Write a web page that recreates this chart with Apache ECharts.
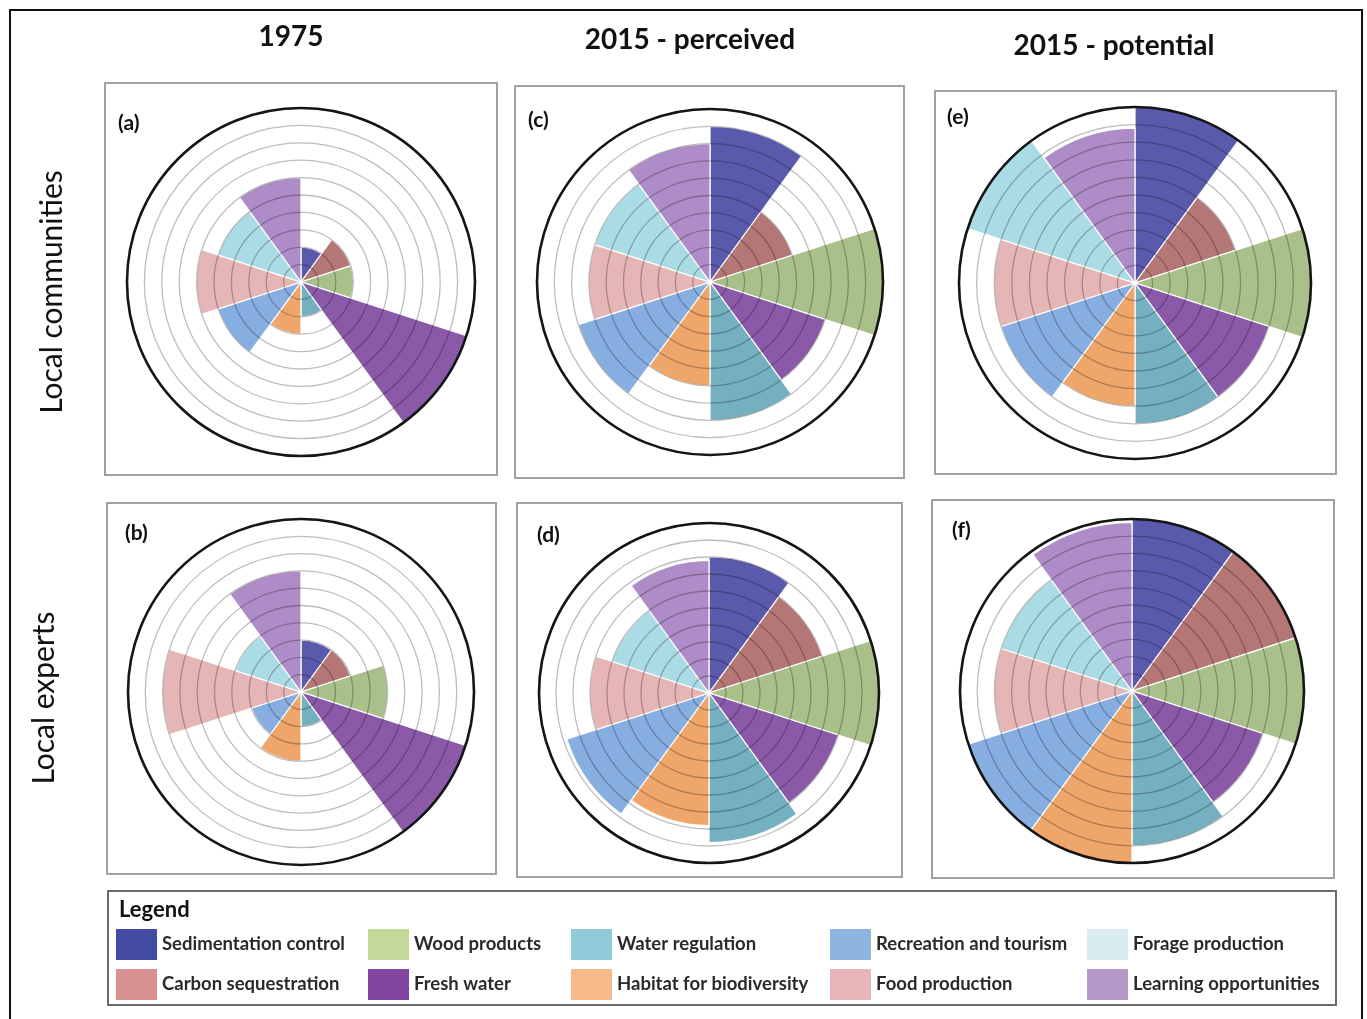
<!DOCTYPE html>
<html>
<head>
<meta charset="utf-8">
<script src="https://cdn.jsdelivr.net/npm/echarts@6/dist/echarts.min.js"></script>
<style>
html,body{margin:0;padding:0;background:#fff;}
#chart{width:1367px;height:1019px;}
</style>
</head>
<body>
<div id="chart"></div>
<script>
// ---- data ----
const categories = ['Sedimentation control','Carbon sequestration','Wood products','Fresh water','Water regulation','Habitat for biodiversity','Recreation and tourism','Food production','Forage production','Learning opportunities'];
const columnTitles = ['1975','2015 - perceived','2015 - potential'];
const rowTitles = ['Local communities','Local experts'];
const panelLabels = ['(a)','(b)','(c)','(d)','(e)','(f)'];
const valuesA = [2, 3, 3, 10, 2, 3, 5, 6, 5, 6];
const valuesB = [3, 3, 5, 10, 2, 4, 3, 8, 4, 7];
const valuesC = [9, 5, 10, 7, 8, 6, 8, 7, 7, 8];
const valuesD = [8, 7, 10, 8, 8.8, 7.8, 8.8, 7, 6, 7.8];
const valuesE = [10, 6, 10, 8, 8, 7, 8, 8, 10, 8.8];
const valuesF = [10, 10, 10, 8, 9, 10, 10, 8, 8, 9.8];
const radiusTicks = [0, 10, 1]; // min, max, interval

// ---- styles ----
const sectorColors = ['#5A5AAD','#B47775','#A9C08A','#8A5AA8','#74B0C0','#EFA66A','#86AEE0','#E6B5B5','#ABDCE5','#AE8CC7'];
const legendColors = ['#434AA2','#DA9191','#C4D89A','#8245A0','#92CAD9','#F6BA8A','#8EB4E0','#E7B5B8','#DAEBF2','#B799C9'];

const panels = [
  {vals: valuesA, label: panelLabels[0], center:[301,282], r:174, box:[105,83,392,392], lab:[118,123]},
  {vals: valuesB, label: panelLabels[1], center:[301,692], r:173, box:[107,503,389,371], lab:[125,533]},
  {vals: valuesC, label: panelLabels[2], center:[710,282], r:173, box:[515,86,389,392], lab:[528,120]},
  {vals: valuesD, label: panelLabels[3], center:[709,693], r:170, box:[517,503,385,374], lab:[537,535]},
  {vals: valuesE, label: panelLabels[4], center:[1135,283], r:176, box:[935,91,401,383], lab:[947,117]},
  {vals: valuesF, label: panelLabels[5], center:[1132,691], r:172, box:[932,500,402,378], lab:[952,530]}
];

const FONT = 'Lato, "Open Sans", sans-serif';

const polar = panels.map(p => ({center: p.center, radius: p.r}));
const angleAxis = panels.map((p,i) => ({
  polarIndex: i, type:'category', data: categories, startAngle: 90, clockwise: true,
  axisLine: {show:true, lineStyle:{color:'#151515', width:2.6}},
  axisTick: {show:false}, axisLabel: {show:false}, splitLine: {show:false}, z: 4
}));
const radiusAxis = panels.map((p,i) => ({
  polarIndex: i, type:'value', min: radiusTicks[0], max: radiusTicks[1], interval: radiusTicks[2],
  axisLine:{show:false}, axisTick:{show:false}, axisLabel:{show:false},
  splitLine:{show:true, lineStyle:{color:'rgba(0,0,0,0.26)', width:1.3}}, z: 3
}));

const series = [];
panels.forEach((p, pi) => {
  categories.forEach((c, ci) => {
    series.push({
      type:'bar', coordinateSystem:'polar', polarIndex: pi, name: c, stack: 'p'+pi,
      barCategoryGap: '0%',
      data: categories.map((_, j) => j === ci ? p.vals[ci] : '-'),
      itemStyle: {color: sectorColors[ci], borderColor:'#ffffff', borderWidth:1.2},
      emphasis: {disabled:true}, silent: true, animation: false
    });
  });
});

// legend: 5 columns of 2 items
const legendCols = [116, 368, 571, 830, 1087];
const legend = legendCols.map((x, k) => ({
  orient:'vertical', left: x, top: 929, padding: 0, itemWidth: 41, itemHeight: 31, itemGap: 9,
  selectedMode: false, icon: 'rect',
  textStyle: {fontFamily: FONT, fontSize: 18.5, fontWeight: 'bold', color:'#2a2a2a'},
  data: [categories[2*k], categories[2*k+1]].map((n) => ({name: n, itemStyle:{color: legendColors[categories.indexOf(n)], borderWidth:0}}))
}));

const graphic = [
  {type:'rect', shape:{x:10, y:10, width:1352, height:1030}, style:{fill:'none', stroke:'#111', lineWidth:2}, z:100},
  {type:'rect', shape:{x:108, y:891, width:1228, height:114}, style:{fill:'none', stroke:'#6a6a6a', lineWidth:2}, z:100},
  {type:'text', left:119, top:899, style:{text:'Legend', font:'bold 22px ' + FONT, fill:'#111'}, z:100},
];
panels.forEach(p => {
  graphic.push({type:'rect', shape:{x:p.box[0], y:p.box[1], width:p.box[2], height:p.box[3]}, style:{fill:'none', stroke:'#a0a0a0', lineWidth:2}, z:100});
  graphic.push({type:'text', x:p.lab[0], y:p.lab[1], style:{text:p.label, font:'bold 21px ' + FONT, fill:'#111', textVerticalAlign:'middle'}, z:100});
});
const colX = [291, 690, 1114];
const colY = [37, 40, 46];
columnTitles.forEach((t, i) => {
  graphic.push({type:'text', x: colX[i], y: colY[i], style:{text:t, font:'bold 28px ' + FONT, fill:'#111', textAlign:'center', textVerticalAlign:'middle'}, z:100});
});
const rowY = [292, 698];
const rowX = [52, 44];
rowTitles.forEach((t, i) => {
  graphic.push({type:'text', x: rowX[i], y: rowY[i], rotation: Math.PI/2, style:{text:t, font:'30px ' + FONT, fill:'#111', textAlign:'center', textVerticalAlign:'middle'}, z:100});
});

const chart = echarts.init(document.getElementById('chart'), null, {renderer:'canvas'});
chart.setOption({
  animation: false,
  backgroundColor: '#ffffff',
  polar, angleAxis, radiusAxis, series, legend, graphic
});
</script>
</body>
</html>
